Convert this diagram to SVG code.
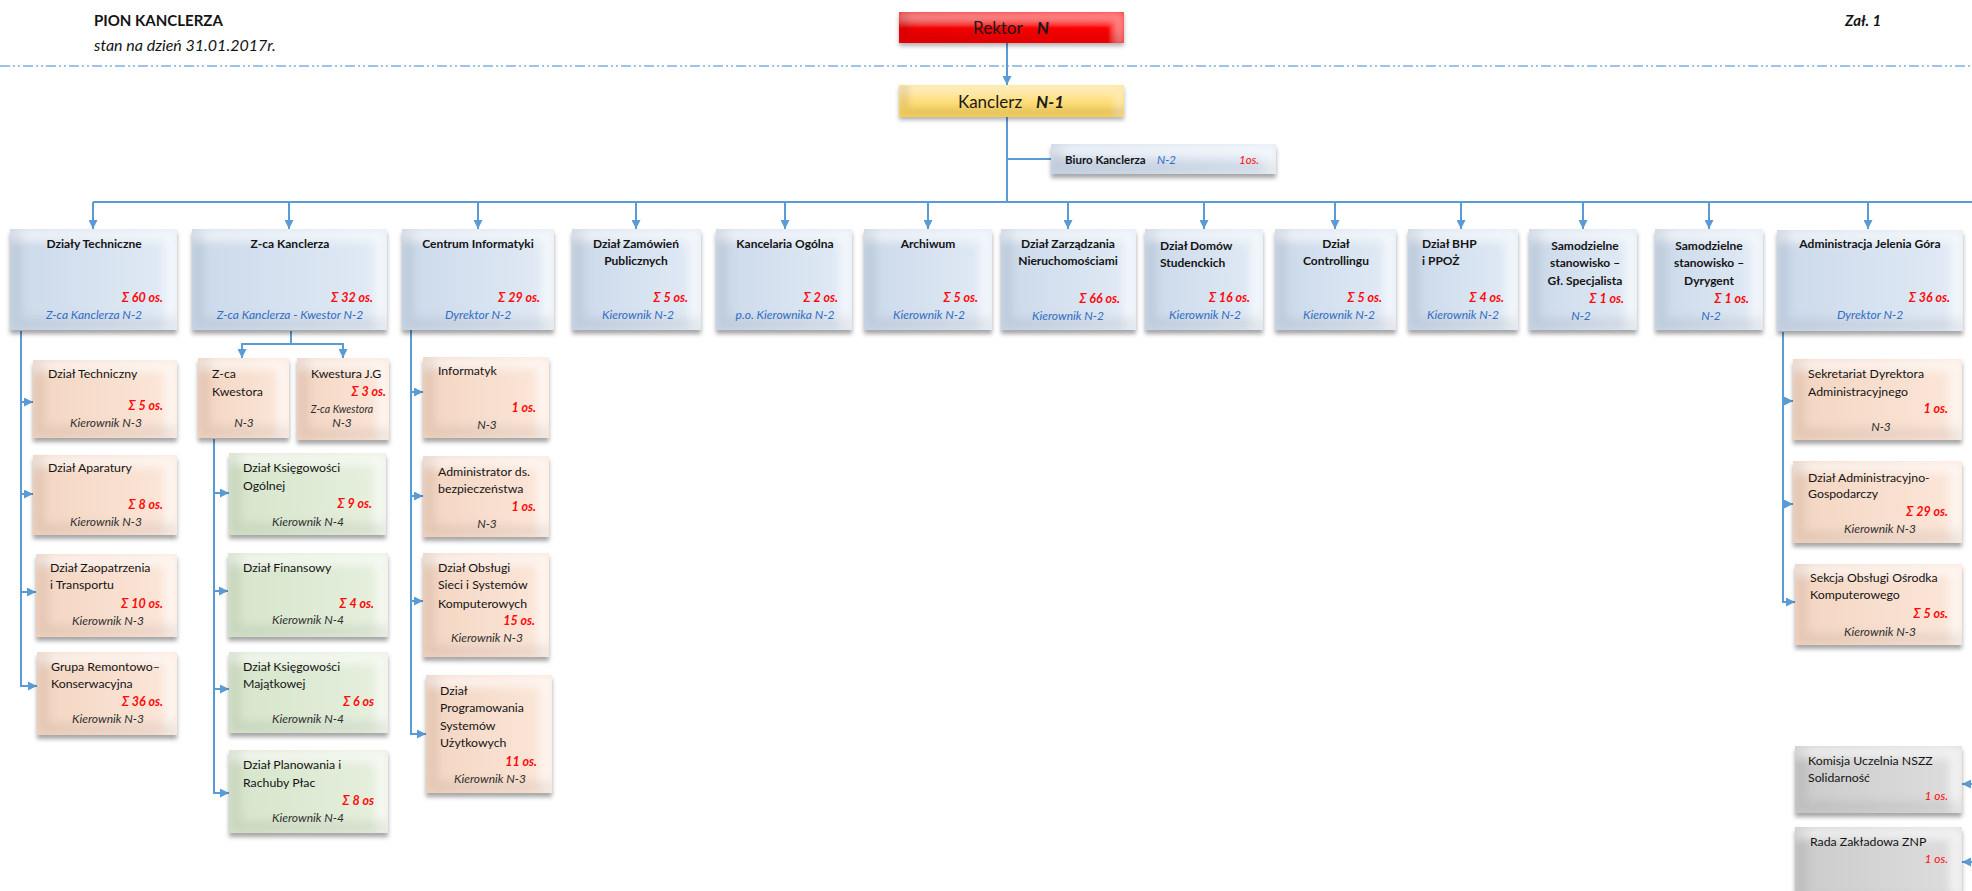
<svg xmlns="http://www.w3.org/2000/svg" width="1972" height="891" viewBox="0 0 1972 891">
<defs>
<style>
text{font-family:Lato,"Liberation Sans",sans-serif}
.h{font-weight:bold;font-size:12px;fill:#141414;text-anchor:middle}
.hl{font-weight:bold;font-size:12px;fill:#141414}
.n{font-size:12.3px;fill:#141414}
.s{font-weight:bold;font-style:italic;font-size:12.5px;fill:#ff0a0a;text-anchor:end}
.si{font-style:italic;font-size:12px;fill:#ff0a0a;text-anchor:end}
.b{font-style:italic;font-size:12px;fill:#2f6cc4;text-anchor:middle}
.k{font-style:italic;font-size:12px;fill:#2e2e2e;text-anchor:middle}
.bx{filter:url(#bv)}
.blue{fill:url(#gBlue)}
.peach{fill:url(#gPeach)}
.green{fill:url(#gGreen)}
.grey{fill:url(#gGrey)}
.ln{fill:none;stroke:#5b9bd5;stroke-width:2}
.ar{marker-end:url(#ah)}
</style>
<linearGradient id="gBlue" x1="0" y1="0" x2="1" y2="0"><stop offset="0" stop-color="#cbd9ea"/><stop offset="1" stop-color="#e2ebf6"/></linearGradient>
<linearGradient id="gPeach" x1="0" y1="0" x2="1" y2="0"><stop offset="0" stop-color="#f3d5c1"/><stop offset="1" stop-color="#fce7da"/></linearGradient>
<linearGradient id="gGreen" x1="0" y1="0" x2="1" y2="0"><stop offset="0" stop-color="#d6e5ca"/><stop offset="1" stop-color="#e6f0de"/></linearGradient>
<linearGradient id="gGrey" x1="0" y1="0" x2="1" y2="0"><stop offset="0" stop-color="#cbcbcb"/><stop offset="1" stop-color="#dedede"/></linearGradient>
<linearGradient id="gRed" x1="0" y1="0" x2="1" y2="0"><stop offset="0" stop-color="#f00000"/><stop offset="1" stop-color="#ff0c0c"/></linearGradient>
<linearGradient id="gGold" x1="0" y1="0" x2="0" y2="1"><stop offset="0" stop-color="#ffe8a0"/><stop offset="1" stop-color="#ffd75e"/></linearGradient>
<filter id="bv" x="-10%" y="-10%" width="120%" height="135%">
<feOffset in="SourceAlpha" dx="-12" dy="12" result="o1"/>
<feComposite in="SourceAlpha" in2="o1" operator="out" result="tr"/>
<feGaussianBlur in="tr" stdDeviation="4" result="trb"/>
<feComposite in="trb" in2="SourceAlpha" operator="in" result="trc"/>
<feFlood flood-color="#ffffff" flood-opacity="0.6"/>
<feComposite in2="trc" operator="in" result="light"/>
<feOffset in="SourceAlpha" dx="12" dy="-12" result="o2"/>
<feComposite in="SourceAlpha" in2="o2" operator="out" result="bl"/>
<feGaussianBlur in="bl" stdDeviation="4" result="blb"/>
<feComposite in="blb" in2="SourceAlpha" operator="in" result="blc"/>
<feFlood flood-color="#000000" flood-opacity="0.14"/>
<feComposite in2="blc" operator="in" result="dark"/>
<feGaussianBlur in="SourceAlpha" stdDeviation="2" result="sb"/>
<feOffset in="sb" dx="0" dy="4" result="sh"/>
<feFlood flood-color="#000000" flood-opacity="0.35"/>
<feComposite in2="sh" operator="in" result="shadow"/>
<feMerge><feMergeNode in="shadow"/><feMergeNode in="SourceGraphic"/><feMergeNode in="light"/><feMergeNode in="dark"/></feMerge>
</filter>
<filter id="bvr" x="-10%" y="-20%" width="120%" height="160%">
<feOffset in="SourceAlpha" dx="-10" dy="10" result="o1"/>
<feComposite in="SourceAlpha" in2="o1" operator="out" result="tr"/>
<feGaussianBlur in="tr" stdDeviation="3" result="trb"/>
<feComposite in="trb" in2="SourceAlpha" operator="in" result="trc"/>
<feFlood flood-color="#ffffff" flood-opacity="0.22"/>
<feComposite in2="trc" operator="in" result="light"/>
<feOffset in="SourceAlpha" dx="10" dy="-10" result="o2"/>
<feComposite in="SourceAlpha" in2="o2" operator="out" result="bl"/>
<feGaussianBlur in="bl" stdDeviation="3" result="blb"/>
<feComposite in="blb" in2="SourceAlpha" operator="in" result="blc"/>
<feFlood flood-color="#000000" flood-opacity="0.2"/>
<feComposite in2="blc" operator="in" result="dark"/>
<feGaussianBlur in="SourceAlpha" stdDeviation="2" result="sb"/>
<feOffset in="sb" dx="0" dy="3" result="sh"/>
<feFlood flood-color="#000000" flood-opacity="0.3"/>
<feComposite in2="sh" operator="in" result="shadow"/>
<feMerge><feMergeNode in="shadow"/><feMergeNode in="SourceGraphic"/><feMergeNode in="light"/><feMergeNode in="dark"/></feMerge>
</filter>
<marker id="ah" viewBox="0 0 10 10" refX="10" refY="5" markerUnits="userSpaceOnUse" markerWidth="9" markerHeight="9" orient="auto"><path d="M0,0 L10,5 L0,10 z" fill="#5b9bd5"/></marker>
</defs>
<rect width="1972" height="891" fill="#ffffff"/>

<g id="header">
<text x="94" y="26" style="font-weight:bold;font-size:15px;fill:#141414">PION KANCLERZA</text>
<text x="94" y="51" style="font-style:italic;font-size:16px;fill:#141414">stan na dzień 31.01.2017r.</text>
<text x="1845" y="26" style="font-weight:bold;font-style:italic;font-size:15px;fill:#141414">Zał. 1</text>
<line x1="0" y1="66" x2="1972" y2="66" stroke="#7fb0de" stroke-width="1.5" stroke-dasharray="10 3 2 3 2 3"/>
</g>

<g id="connectors">
<path class="ln ar" d="M1007,43 V85"/>
<path class="ln" d="M1007,117 V202 M1007,159 H1051 M93,202 H1972"/>
<path class="ln ar" d="M93,202 V229"/>
<path class="ln ar" d="M289,202 V229"/>
<path class="ln ar" d="M478,202 V229"/>
<path class="ln ar" d="M636,202 V229"/>
<path class="ln ar" d="M785,202 V229"/>
<path class="ln ar" d="M928,202 V229"/>
<path class="ln ar" d="M1068,202 V229"/>
<path class="ln ar" d="M1204,202 V229"/>
<path class="ln ar" d="M1335,202 V229"/>
<path class="ln ar" d="M1461,202 V229"/>
<path class="ln ar" d="M1583,202 V229"/>
<path class="ln ar" d="M1709,202 V229"/>
<path class="ln ar" d="M1868,202 V229"/>
<path class="ln" d="M21,331 V686"/>
<path class="ln ar" d="M21,402 H33"/>
<path class="ln ar" d="M21,494 H33"/>
<path class="ln ar" d="M21,592 H36"/>
<path class="ln ar" d="M20,686 H37"/>
<path class="ln ar" d="M291,331 V344 H242 V358"/>
<path class="ln ar" d="M291,344 H343 V358"/>
<path class="ln" d="M214,439 V793"/>
<path class="ln ar" d="M214,493 H229"/>
<path class="ln ar" d="M214,591 H228"/>
<path class="ln ar" d="M214,689 H229"/>
<path class="ln ar" d="M213,793 H229"/>
<path class="ln" d="M411,330 V734"/>
<path class="ln ar" d="M411,392 H423"/>
<path class="ln ar" d="M411,496 H423"/>
<path class="ln ar" d="M411,601 H423"/>
<path class="ln ar" d="M410,734 H426"/>
<path class="ln" d="M1783,332 V602"/>
<path class="ln ar" d="M1783,401 H1793"/>
<path class="ln ar" d="M1783,504 H1793"/>
<path class="ln ar" d="M1782,602 H1795"/>
<path class="ln ar" d="M1974,784 H1962"/>
<path class="ln ar" d="M1974,862 H1962"/>
</g>

<g id="rektor">
<rect x="899" y="12" width="225" height="31" fill="url(#gRed)" filter="url(#bvr)"/>
<text x="1011" y="34" style="font-size:17px;fill:#1a1a1a;text-anchor:middle">Rektor<tspan dx="14" style="font-weight:bold;font-style:italic">N</tspan></text>
</g>
<g id="kanclerz">
<rect x="899" y="85" width="225" height="32" fill="url(#gGold)" filter="url(#bvr)"/>
<text x="1011" y="108" style="font-size:17px;fill:#1a1a1a;text-anchor:middle">Kanclerz<tspan dx="14" style="font-weight:bold;font-style:italic">N-1</tspan></text>
</g>
<g id="biuro">
<rect class="bx blue" x="1051" y="144" width="225" height="30"/>
<text x="1065" y="164" style="font-weight:bold;font-size:11.5px;fill:#141414">Biuro Kanclerza</text>
<text x="1157" y="164" style="font-style:italic;font-size:11.5px;fill:#2f6cc4">N-2</text>
<text x="1239" y="164" style="font-style:italic;font-size:11.5px;fill:#ff0a0a">1os.</text>
</g>

<g id="dzialy-techniczne">
<rect class="bx blue" x="10" y="229" width="167" height="101"/>
<text class="h" x="94" y="248">Działy Techniczne</text>
<text class="s" x="163" y="302">Σ 60 os.</text>
<text class="b" x="94" y="319">Z-ca Kanclerza N-2</text>
</g>
<g id="zca-kanclerza">
<rect class="bx blue" x="192" y="229" width="195" height="101"/>
<text class="h" x="290" y="248">Z-ca Kanclerza</text>
<text class="s" x="373" y="302">Σ 32 os.</text>
<text class="b" x="290" y="319">Z-ca Kanclerza - Kwestor N-2</text>
</g>
<g id="centrum-informatyki">
<rect class="bx blue" x="402" y="229" width="152" height="101"/>
<text class="h" x="478" y="248">Centrum Informatyki</text>
<text class="s" x="540" y="302">Σ 29 os.</text>
<text class="b" x="478" y="319">Dyrektor N-2</text>
</g>
<g id="zamowien">
<rect class="bx blue" x="572" y="229" width="129" height="101"/>
<text class="h" x="636" y="248">Dział Zamówień</text>
<text class="h" x="636" y="265">Publicznych</text>
<text class="s" x="688" y="302">Σ 5 os.</text>
<text class="b" x="638" y="319">Kierownik N-2</text>
</g>
<g id="kancelaria">
<rect class="bx blue" x="716" y="229" width="136" height="101"/>
<text class="h" x="785" y="248">Kancelaria Ogólna</text>
<text class="s" x="838" y="302">Σ 2 os.</text>
<text class="b" x="785" y="319">p.o. Kierownika N-2</text>
</g>
<g id="archiwum">
<rect class="bx blue" x="864" y="229" width="128" height="101"/>
<text class="h" x="928" y="248">Archiwum</text>
<text class="s" x="978" y="302">Σ 5 os.</text>
<text class="b" x="929" y="319">Kierownik N-2</text>
</g>
<g id="zarzadzania">
<rect class="bx blue" x="1001" y="229" width="135" height="101"/>
<text class="h" x="1068" y="248">Dział Zarządzania</text>
<text class="h" x="1068" y="265">Nieruchomościami</text>
<text class="s" x="1120" y="303">Σ 66 os.</text>
<text class="b" x="1068" y="320">Kierownik N-2</text>
</g>
<g id="domow">
<rect class="bx blue" x="1145" y="229" width="118" height="101"/>
<text class="hl" x="1160" y="250">Dział Domów</text>
<text class="hl" x="1160" y="267">Studenckich</text>
<text class="s" x="1250" y="302">Σ 16 os.</text>
<text class="b" x="1205" y="319">Kierownik N-2</text>
</g>
<g id="controlling">
<rect class="bx blue" x="1275" y="229" width="121" height="101"/>
<text class="h" x="1336" y="248">Dział</text>
<text class="h" x="1336" y="265">Controllingu</text>
<text class="s" x="1382" y="302">Σ 5 os.</text>
<text class="b" x="1339" y="319">Kierownik N-2</text>
</g>
<g id="bhp">
<rect class="bx blue" x="1408" y="229" width="110" height="101"/>
<text class="hl" x="1422" y="248">Dział BHP</text>
<text class="hl" x="1422" y="265">i PPOŻ</text>
<text class="s" x="1504" y="302">Σ 4 os.</text>
<text class="b" x="1463" y="319">Kierownik N-2</text>
</g>
<g id="gl-specjalista">
<rect class="bx blue" x="1529" y="229" width="108" height="101"/>
<text class="h" x="1585" y="250">Samodzielne</text>
<text class="h" x="1585" y="267">stanowisko –</text>
<text class="h" x="1585" y="285">Gł. Specjalista</text>
<text class="s" x="1624" y="303">Σ  1 os.</text>
<text class="b" x="1581" y="320">N-2</text>
</g>
<g id="dyrygent">
<rect class="bx blue" x="1655" y="229" width="108" height="101"/>
<text class="h" x="1709" y="250">Samodzielne</text>
<text class="h" x="1709" y="267">stanowisko –</text>
<text class="h" x="1709" y="285">Dyrygent</text>
<text class="s" x="1749" y="303">Σ  1 os.</text>
<text class="b" x="1711" y="320">N-2</text>
</g>
<g id="administracja">
<rect class="bx blue" x="1777" y="230" width="186" height="101"/>
<text class="h" x="1870" y="248">Administracja Jelenia Góra</text>
<text class="s" x="1950" y="302">Σ 36 os.</text>
<text class="b" x="1870" y="319">Dyrektor N-2</text>
</g>

<g id="dzial-techniczny">
<rect class="bx peach" x="33" y="360" width="144" height="78"/>
<text class="n" x="48" y="378">Dział Techniczny</text>
<text class="s" x="163" y="410">Σ 5 os.</text>
<text class="k" x="106" y="427">Kierownik  N-3</text>
</g>
<g id="dzial-aparatury">
<rect class="bx peach" x="33" y="455" width="144" height="80"/>
<text class="n" x="48" y="472">Dział Aparatury</text>
<text class="s" x="163" y="509">Σ 8 os.</text>
<text class="k" x="106" y="526">Kierownik N-3</text>
</g>
<g id="dzial-zaopatrzenia">
<rect class="bx peach" x="36" y="554" width="141" height="83"/>
<text class="n" x="50" y="572">Dział Zaopatrzenia</text>
<text class="n" x="50" y="589">i Transportu</text>
<text class="s" x="163" y="608">Σ 10 os.</text>
<text class="k" x="108" y="625">Kierownik N-3</text>
</g>
<g id="grupa-remontowo">
<rect class="bx peach" x="37" y="652" width="140" height="83"/>
<text class="n" x="51" y="671">Grupa Remontowo–</text>
<text class="n" x="51" y="688">Konserwacyjna</text>
<text class="s" x="163" y="706">Σ 36 os.</text>
<text class="k" x="108" y="723">Kierownik N-3</text>
</g>

<g id="zca-kwestora">
<rect class="bx peach" x="198" y="358" width="91" height="80"/>
<text class="n" x="212" y="378">Z-ca</text>
<text class="n" x="212" y="396">Kwestora</text>
<text class="k" x="244" y="427">N-3</text>
</g>
<g id="kwestura-jg">
<rect class="bx peach" x="297" y="358" width="92" height="82"/>
<text class="n" x="311" y="378">Kwestura J.G</text>
<text class="s" x="386" y="396">Σ 3 os.</text>
<text class="k" x="342" y="413" style="font-size:10.5px">Z-ca Kwestora</text>
<text class="k" x="342" y="427">N-3</text>
</g>

<g id="ksiegowosci-ogolnej">
<rect class="bx green" x="229" y="453" width="157" height="82"/>
<text class="n" x="243" y="472">Dział Księgowości</text>
<text class="n" x="243" y="490">Ogólnej</text>
<text class="s" x="372" y="508">Σ 9 os.</text>
<text class="k" x="308" y="526">Kierownik N-4</text>
</g>
<g id="finansowy">
<rect class="bx green" x="228" y="553" width="160" height="84"/>
<text class="n" x="243" y="572">Dział Finansowy</text>
<text class="s" x="374" y="608">Σ 4 os.</text>
<text class="k" x="308" y="624">Kierownik N-4</text>
</g>
<g id="ksiegowosci-majatkowej">
<rect class="bx green" x="229" y="652" width="159" height="81"/>
<text class="n" x="243" y="671">Dział Księgowości</text>
<text class="n" x="243" y="688">Majątkowej</text>
<text class="s" x="374" y="706">Σ 6 os</text>
<text class="k" x="308" y="723">Kierownik N-4</text>
</g>
<g id="planowania-plac">
<rect class="bx green" x="229" y="750" width="159" height="83"/>
<text class="n" x="243" y="769">Dział Planowania i</text>
<text class="n" x="243" y="787">Rachuby Płac</text>
<text class="s" x="374" y="805">Σ 8 os</text>
<text class="k" x="308" y="822">Kierownik N-4</text>
</g>

<g id="informatyk">
<rect class="bx peach" x="423" y="357" width="126" height="81"/>
<text class="n" x="438" y="375">Informatyk</text>
<text class="s" x="536" y="412">1 os.</text>
<text class="k" x="487" y="429">N-3</text>
</g>
<g id="administrator">
<rect class="bx peach" x="423" y="456" width="126" height="81"/>
<text class="n" x="438" y="476">Administrator ds.</text>
<text class="n" x="438" y="493">bezpieczeństwa</text>
<text class="s" x="536" y="511">1 os.</text>
<text class="k" x="487" y="528">N-3</text>
</g>
<g id="obslugi-sieci">
<rect class="bx peach" x="423" y="553" width="126" height="104"/>
<text class="n" x="438" y="572">Dział Obsługi</text>
<text class="n" x="438" y="589">Sieci i Systemów</text>
<text class="n" x="438" y="608">Komputerowych</text>
<text class="s" x="535" y="625">15 os.</text>
<text class="k" x="487" y="642">Kierownik N-3</text>
</g>
<g id="programowania">
<rect class="bx peach" x="426" y="675" width="126" height="118"/>
<text class="n" x="440" y="695">Dział</text>
<text class="n" x="440" y="712">Programowania</text>
<text class="n" x="440" y="730">Systemów</text>
<text class="n" x="440" y="747">Użytkowych</text>
<text class="s" x="537" y="766">11 os.</text>
<text class="k" x="490" y="783">Kierownik N-3</text>
</g>

<g id="sekretariat">
<rect class="bx peach" x="1793" y="359" width="169" height="81"/>
<text class="n" x="1808" y="378">Sekretariat Dyrektora</text>
<text class="n" x="1808" y="396">Administracyjnego</text>
<text class="s" x="1948" y="413">1 os.</text>
<text class="k" x="1881" y="431">N-3</text>
</g>
<g id="administracyjno-gospodarczy">
<rect class="bx peach" x="1793" y="461" width="169" height="82"/>
<text class="n" x="1808" y="482">Dział Administracyjno-</text>
<text class="n" x="1808" y="498">Gospodarczy</text>
<text class="s" x="1948" y="516">Σ 29 os.</text>
<text class="k" x="1880" y="533">Kierownik N-3</text>
</g>
<g id="sekcja-obslugi">
<rect class="bx peach" x="1795" y="564" width="167" height="81"/>
<text class="n" x="1810" y="582">Sekcja Obsługi Ośrodka</text>
<text class="n" x="1810" y="599">Komputerowego</text>
<text class="s" x="1948" y="618">Σ 5 os.</text>
<text class="k" x="1880" y="636">Kierownik N-3</text>
</g>

<g id="komisja-nszz">
<rect class="bx grey" x="1795" y="746" width="167" height="67"/>
<text class="n" x="1808" y="765">Komisja Uczelnia NSZZ</text>
<text class="n" x="1808" y="782">Solidarność</text>
<text class="si" x="1948" y="800">1 os.</text>
</g>
<g id="rada-znp">
<rect class="bx grey" x="1795" y="827" width="167" height="80"/>
<text class="n" x="1810" y="846">Rada Zakładowa ZNP</text>
<text class="si" x="1948" y="863">1 os.</text>
</g>
</svg>
